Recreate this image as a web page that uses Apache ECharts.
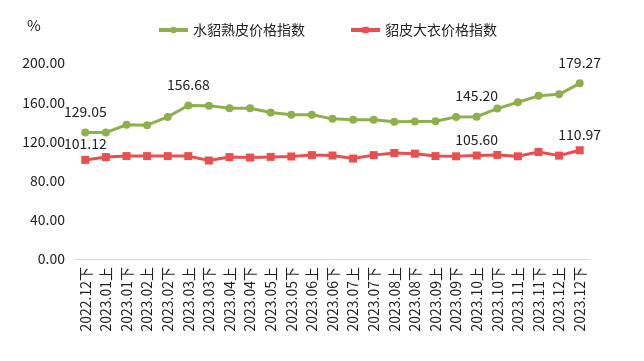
<!DOCTYPE html>
<html>
<head>
<meta charset="utf-8">
<script src="https://cdn.jsdelivr.net/npm/echarts@6/dist/echarts.min.js"></script>
<style>html,body{margin:0;padding:0;background:#fff;}#c{width:644px;height:361px;}</style>
</head>
<body>
<div id="c"></div>
<script>
var categories = ['2022.12下','2023.01上','2023.01下','2023.02上','2023.02下','2023.03上','2023.03下','2023.04上','2023.04下','2023.05上','2023.05下','2023.06上','2023.06下','2023.07上','2023.07下','2023.08上','2023.08下','2023.09上','2023.09下','2023.10上','2023.10下','2023.11上','2023.11下','2023.12上','2023.12下'];
var greenName = '水貂熟皮价格指数';
var redName = '貂皮大衣价格指数';
var greenValues = [129.05,129.0,137.0,136.5,145.0,156.68,156.5,153.8,153.8,149.5,147.2,147.2,143.0,142.0,142.0,140.0,140.3,140.5,145.0,145.20,153.5,160.0,166.5,168.0,179.27];
var redValues = [101.12,104.0,105.0,105.0,105.0,105.0,100.5,104.0,103.5,104.2,104.6,106.0,105.6,102.5,106.0,108.2,107.5,105.0,104.8,105.60,106.2,104.8,109.2,105.5,110.97];
var greenLabeled = [0,5,19,24];
var redLabeled = [0,19,24];
var yTicks = {min:0, max:200, interval:40};

var FONT = 'Noto Sans CJK SC';
function build(values, labeled, dist) {
  return values.map(function(v, i){
    return {value: v, label: {show: labeled.indexOf(i) >= 0, position: 'top', distance: dist,
      formatter: function(p){ return p.value.toFixed(2); }, fontSize: 14, color: '#222', fontFamily: FONT}};
  });
}
var chart = echarts.init(document.getElementById('c'));
chart.setOption({
  animation: false,
  textStyle: {fontFamily: FONT},
  graphic: [{type:'text', left: 27, top: 18, style:{text:'%', fontSize:15, fill:'#222', fontFamily: FONT}}],
  legend: {
    top: 18, left: 152, itemWidth: 29, itemHeight: 8, itemGap: 44,
    lineStyle: {width: 4},
    textStyle: {fontSize: 14, color: '#222', fontFamily: FONT},
    data: [greenName, redName]
  },
  grid: {left: 75, right: 54, top: 63, bottom: 102, containLabel: false},
  xAxis: {
    type: 'category', data: categories, boundaryGap: true,
    axisLine: {lineStyle: {color: '#d9d9d9', width: 1}},
    axisTick: {show: false},
    axisLabel: {rotate: 90, interval: 0, fontSize: 14, color: '#222', margin: 8, fontFamily: FONT}
  },
  yAxis: {
    type: 'value', min: yTicks.min, max: yTicks.max, interval: yTicks.interval,
    axisLine: {show: false}, axisTick: {show: false}, splitLine: {show: false},
    axisLabel: {fontSize: 14, color: '#222', margin: 10, fontFamily: FONT, formatter: function(v){ return v.toFixed(2); }}
  },
  series: [
    {name: greenName, type: 'line', data: build(greenValues, greenLabeled, 10),
      symbol: 'circle', symbolSize: 8, lineStyle: {width: 3, color: '#8db04b'},
      itemStyle: {color: '#8db04b'}},
    {name: redName, type: 'line', data: build(redValues, redLabeled, 5),
      symbol: 'rect', symbolSize: 8, lineStyle: {width: 3, color: '#e8504f'},
      itemStyle: {color: '#e8504f'}}
  ]
});
</script>
</body>
</html>
